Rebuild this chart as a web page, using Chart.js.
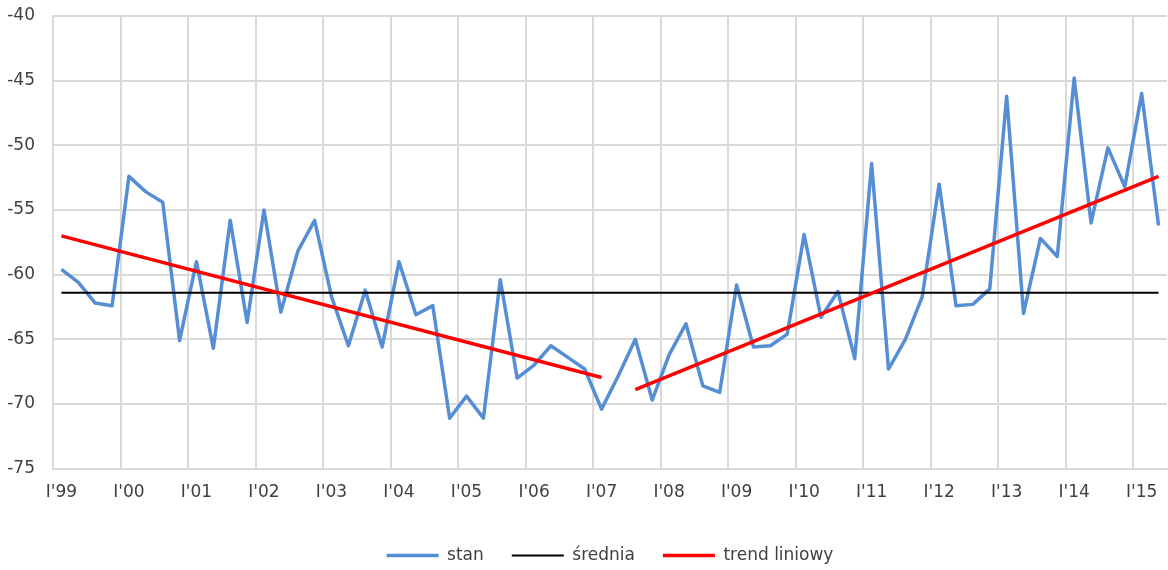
<!DOCTYPE html>
<html>
<head>
<meta charset="utf-8">
<script src="https://cdn.jsdelivr.net/npm/chart.js@4/dist/chart.umd.min.js"></script>
<style>
  html, body { margin: 0; padding: 0; background: #fff; }
  #wrap { width: 1168px; height: 570px; position: relative; }
</style>
</head>
<body>
<div id="wrap"><canvas id="chart"></canvas></div>
<script>
// quarters I'99 .. II'15
const years = ['99', '00', '01', '02', '03', '04', '05', '06', '07', '08', '09', '10', '11', '12', '13', '14', '15'];
const quarterNames = ['I', 'II', 'III', 'IV'];
const quarters = [];
years.forEach(y => quarterNames.forEach(q => quarters.push(q + "'" + y)));
quarters.length = 66;

const stan = [
  -59.6, -60.6, -62.2, -62.4, -52.4, -53.6, -54.4, -65.1,
  -59.0, -65.7, -55.8, -63.7, -55.0, -62.9, -58.2, -55.8,
  -61.7, -65.5, -61.2, -65.6, -59.0, -63.1, -62.4, -71.1,
  -69.4, -71.1, -60.4, -68.0, -67.0, -65.5, -66.4, -67.3,
  -70.4, -67.8, -65.0, -69.7, -66.2, -63.8, -68.6, -69.1,
  -60.8, -65.6, -65.5, -64.6, -56.9, -63.3, -61.3, -66.5,
  -51.4, -67.3, -65.0, -61.7, -53.0, -62.4, -62.3, -61.1,
  -46.2, -63.0, -57.2, -58.6, -44.8, -56.0, -50.2, -53.2,
  -46.0, -56.2
];

const sredniaValue = -61.4;

// two separate linear trends: I'99–I'07 and III'07–II'15
const trendFrom = ["I'99", "III'07"];
const trendTo = ["I'07", "II'15"];
const trendStartValues = [-57.0, -68.9];
const trendEndValues = [-67.95, -52.4];

const yTicks = [-75, -70, -65, -60, -55, -50, -45, -40];

const gridColor = '#d9d9d9';
const textColor = '#404040';
const font = { family: 'DejaVu Sans', size: 17 };

const trendData = [];
trendFrom.forEach((from, i) => {
  if (i > 0) trendData.push({ x: quarters[quarters.indexOf(from) - 1], y: null });
  trendData.push({ x: from, y: trendStartValues[i] });
  trendData.push({ x: trendTo[i], y: trendEndValues[i] });
});

// drop the label overflow padding so the plot fills the canvas edges
function noPadding(scale) {
  scale.paddingLeft = 0;
  scale.paddingRight = 0;
  scale.paddingTop = 0;
  scale.paddingBottom = 0;
}

new Chart(document.getElementById('chart'), {
  type: 'line',
  data: {
    labels: quarters,
    datasets: [
      {
        label: 'stan',
        data: stan,
        borderColor: '#558ed5',
        backgroundColor: '#558ed5',
        borderWidth: 3.5,
        pointRadius: 0,
        borderJoinStyle: 'round',
        order: 3
      },
      {
        label: 'średnia',
        data: [{ x: quarters[0], y: sredniaValue }, { x: quarters[quarters.length - 1], y: sredniaValue }],
        borderColor: '#000000',
        backgroundColor: '#000000',
        borderWidth: 2,
        pointRadius: 0,
        order: 2
      },
      {
        label: 'trend liniowy',
        data: trendData,
        borderColor: '#ff0000',
        backgroundColor: '#ff0000',
        borderWidth: 3.5,
        pointRadius: 0,
        spanGaps: false,
        order: 1
      }
    ]
  },
  options: {
    responsive: true,
    maintainAspectRatio: false,
    animation: false,
    layout: { padding: { top: 16, left: 8, right: 1, bottom: -4 } },
    plugins: {
      tooltip: { enabled: false },
      legend: {
        position: 'bottom',
        fullSize: false,
        labels: {
          usePointStyle: true,
          pointStyle: 'line',
          pointStyleWidth: 52,
          padding: 28,
          color: textColor,
          font: font,
          sort: (a, b) => a.datasetIndex - b.datasetIndex
        }
      }
    },
    scales: {
      x: {
        offset: true,
        grid: {
          offset: true,
          drawTicks: false,
          lineWidth: 2,
          color: ctx => (ctx.index % 4 === 0 ? gridColor : 'transparent')
        },
        border: { color: gridColor, width: 2 },
        ticks: {
          autoSkip: false,
          maxRotation: 0,
          padding: 14,
          color: textColor,
          font: font,
          callback: (v, i) => (i % 4 === 0 ? quarters[i] : '')
        },
        afterFit: scale => { noPadding(scale); scale.height += 2; }
      },
      y: {
        min: yTicks[0],
        max: yTicks[yTicks.length - 1],
        afterBuildTicks: scale => { scale.ticks = yTicks.map(v => ({ value: v })); },
        afterFit: scale => { noPadding(scale); scale.width = 45; },
        grid: { drawTicks: false, lineWidth: 2, color: gridColor },
        border: { color: gridColor, width: 2 },
        ticks: { padding: 18, color: textColor, font: font }
      }
    }
  }
});
</script>
</body>
</html>
